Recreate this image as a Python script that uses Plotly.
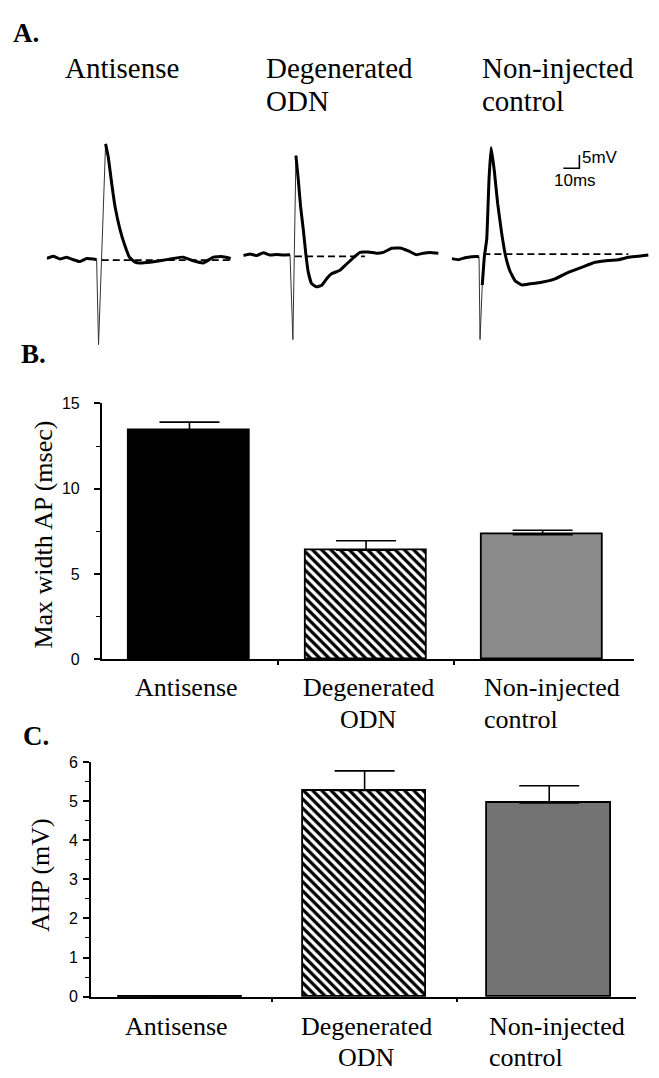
import plotly.graph_objects as go

W, H = 659, 1078

# ---------------- data: panels B and C ----------------
categories = ["Antisense", "Degenerated ODN", "Non-injected control"]
cat_labels = ["Antisense", "Degenerated<br>ODN", "Non-injected<br>control"]
ap_width_ms = [13.4, 6.4, 7.3]
ap_width_sem = [0.5, 0.55, 0.26]
ahp_mv = [0.0, 5.27, 4.95]
ahp_sem = [0.0, 0.5, 0.44]
b_tickvals = [0, 5, 10, 15]
c_tickvals = [0, 1, 2, 3, 4, 5, 6]

# ---------------- data: panel A traces (ms, mV) ----------------
anti_t = [0, 4.1, 8.3, 12.5, 16.7, 20.8, 25.0, 29.2, 31.2, None, 36.8, 38.5, 40.6, 42.7, 45.8, 48.9,
          51.7, 55.2, 58.3, 64.6, 70.9, 79.1, 85.4, 91.7, 97.9, 104.2, 109.4, 115.0]
anti_v = [0.2, 1.0, 0, 0.7, -0.3, -1.0, 0.2, 0, -0.2, None, 43.8, 38.7, 28.8, 20.0, 11.3, 5.0,
          0.7, -1.2, -1.5, -1.2, -0.7, 0.2, 0.7, -0.7, -1.5, 0.7, 0.9, 0.2]
anti_art_t = [31.2, 32.4, 36.8]
anti_art_v = [-0.2, -32.6, 43.8]
anti_dash_t = [34.4, 115.0]
anti_dash_v = [-0.4, -0.4]

degen_t = [0, 4.2, 8.4, 12.5, 16.7, 20.8, 25.0, 29.2, None, 32.9, 34.4, 35.8, 37.5, 39.2, 40.6, 42.7,
           45.8, 49.0, 52.1, 55.2, 60.4, 64.6, 69.8, 72.9, 78.1, 83.4, 87.5, 92.7, 97.9, 103.1,
           108.3, 112.5, 116.7, 121.9]
degen_v = [-0.2, 0.4, -0.2, 0.9, 0, 0.2, 0, 0.1, None, 37.8, 28.5, 18.5, 9.7, -0.2, -6.5, -10.9,
           -12.1, -11.5, -9.0, -7.1, -5.8, -3.4, -0.5, 1.0, 1.2, 0.7, 1.0, 2.6, 2.7, 1.6,
           0.1, 0.7, 1.0, 0.7]
degen_art_t = [29.2, 31.0, 32.9]
degen_art_v = [0.1, -32.2, 37.8]
degen_dash_t = [32.3, 76.1]
degen_dash_v = [-0.5, -0.5]

nonin_t = [0, 4.2, 8.3, 12.5, 15.6, 17.1, None, 19.1, 20.4, 21.9, 23.3, 24.6, 26.6, 28.7, 31.2,
           33.7, 36.4, 39.6, 43.7, 49.0, 56.2, 64.6, 72.9, 81.2, 89.6, 97.9, 104.2, 110.4, 116.7, 122.9]
nonin_v = [-0.5, -0.9, -0.2, 0.2, 0.3, 0.2, None, -10.6, 0.2, 6.9, 29.3, 41.8, 33.1, 20.6, 9.3,
           0.4, -5.2, -8.9, -10.5, -10.1, -9.5, -8.2, -5.7, -3.8, -1.9, -1.2, -0.9, 0, 0.4, 0.9]
nonin_art_t = [17.1, 17.7, 19.1]
nonin_art_v = [0.2, -31.3, -10.6]
nonin_dash_t = [19.8, 110.4]
nonin_dash_v = [1.2, 1.2]

scale_ms = 10
scale_mv = 5
trace_titles = ["Antisense", "Degenerated<br>ODN", "Non-injected<br>control"]

# ---------------- layout helpers ----------------
def fx(px):
    return px / W

def fy(px):
    return 1 - px / H

SERIF = "Liberation Serif"
SANS = "Liberation Sans"
PX_PER_MS = 1.6
PX_PER_MV = 2.67
A_TOP, A_BOT = 110, 350
A_SPAN = 200

fig = go.Figure()

panelsA = [
    (anti_t, anti_v, anti_art_t, anti_art_v, anti_dash_t, anti_dash_v, 46.7, 255.0),
    (degen_t, degen_v, degen_art_t, degen_art_v, degen_dash_t, degen_dash_v, 243.3, 251.0),
    (nonin_t, nonin_v, nonin_art_t, nonin_art_v, nonin_dash_t, nonin_dash_v, 451.7, 253.3),
]
layout_axes = {}
for i, (t, v, at, av, dt, dv, x0, base) in enumerate(panelsA):
    n = i + 3
    xa, ya = f"x{n}", f"y{n}"
    fig.add_trace(go.Scatter(x=dt, y=dv, mode="lines", xaxis=xa, yaxis=ya,
                             line=dict(color="black", width=1.8, dash="7px,4px"),
                             showlegend=False, hoverinfo="skip"))
    fig.add_trace(go.Scatter(x=at, y=av, mode="lines", xaxis=xa, yaxis=ya,
                             line=dict(color="#333333", width=1),
                             showlegend=False, hoverinfo="skip"))
    fig.add_trace(go.Scatter(x=t, y=v, mode="lines", xaxis=xa, yaxis=ya, connectgaps=False,
                             line=dict(color="black", width=3, shape="spline", smoothing=0.3),
                             showlegend=False, hoverinfo="skip"))
    layout_axes[f"xaxis{n}"] = dict(domain=[fx(x0), fx(x0 + A_SPAN)], range=[0, A_SPAN / PX_PER_MS],
                                    visible=False, anchor=ya, fixedrange=True)
    layout_axes[f"yaxis{n}"] = dict(domain=[fy(A_BOT), fy(A_TOP)],
                                    range=[-(A_BOT - base) / PX_PER_MV, (base - A_TOP) / PX_PER_MV],
                                    visible=False, anchor=xa, fixedrange=True)

# scale bar in the non-injected panel
sb_x, sb_y = 79.8, 33.9
fig.add_trace(go.Scatter(x=[sb_x - scale_ms, sb_x, sb_x], y=[sb_y, sb_y, sb_y + scale_mv],
                         mode="lines", xaxis="x5", yaxis="y5",
                         line=dict(color="black", width=1.6), showlegend=False, hoverinfo="skip"))

annotations = []
annotations.append(dict(x=sb_x, y=sb_y + scale_mv, xref="x5", yref="y5", text=f"{scale_mv}mV",
                        showarrow=False, xanchor="left", yanchor="top", xshift=1, yshift=9,
                        font=dict(family=SANS, size=17, color="black")))
annotations.append(dict(x=sb_x - scale_ms, y=sb_y, xref="x5", yref="y5", text=f"{scale_ms}ms",
                        showarrow=False, xanchor="left", yanchor="top", xshift=-11, yshift=-1,
                        font=dict(family=SANS, size=17, color="black")))


def add_lines(text, x, xref, top_px, spacing, size, xanchor, xshift=0):
    for k, line in enumerate(text.split("<br>")):
        annotations.append(dict(x=x, y=fy(top_px + k * spacing), xref=xref, yref="paper", text=line,
                                showarrow=False, xanchor=xanchor, yanchor="top", xshift=xshift,
                                font=dict(family=SERIF, size=size, color="black")))


title_x = [63, 264, 480]
for tx, tt in zip(title_x, trace_titles):
    add_lines(tt, fx(tx), "paper", 43, 33.5, 29, "left")

for lab, lx, ly in [("A.", 11, 8), ("B.", 19, 334), ("C.", 21, 722)]:
    annotations.append(dict(x=fx(lx), y=fy(ly), xref="paper", yref="paper", text=f"<b>{lab}</b>",
                            showarrow=False, xanchor="left", yanchor="top",
                            font=dict(family=SERIF, size=27, color="black")))

# ---------------- bars ----------------
idx = list(range(len(categories)))

def bar_panel(values, sems, xa, ya, width, gray):
    fig.add_trace(go.Bar(
        x=idx, y=values, width=width, xaxis=xa, yaxis=ya,
        marker=dict(color=["black", "black", gray],
                    line=dict(color="black", width=1.8),
                    pattern=dict(shape=["", "\\", ""], fgcolor="black", bgcolor="white",
                                 fillmode="replace", size=6.5, solidity=0.5)),
        error_y=dict(type="data", array=sems, arrayminus=[0] * len(sems), symmetric=False,
                     color="black", thickness=1.6, width=30),
        showlegend=False, hoverinfo="skip"))

bar_panel(ap_width_ms, ap_width_sem, "x", "y", 0.685, "#8a8a8a")
bar_panel(ahp_mv, ahp_sem, "x2", "y2", 0.67, "#737373")

# zero-height bar drawn as a line
for i, v in enumerate(ahp_mv):
    if v == 0:
        fig.add_trace(go.Scatter(x=[i - 0.67 / 2, i + 0.67 / 2], y=[v, v], mode="lines",
                                 xaxis="x2", yaxis="y2", line=dict(color="black", width=3.5),
                                 showlegend=False, hoverinfo="skip"))

axis_common = dict(showline=True, linecolor="black", linewidth=1.6, showgrid=False, zeroline=False,
                   ticks="outside", tickcolor="black", tickwidth=1.5, fixedrange=True)

layout_axes["xaxis"] = dict(axis_common, domain=[fx(101.7), fx(633.6)], range=[-0.497, 2.515],
                            tickvals=[0.5, 1.5], ticktext=["", ""], ticklen=4, anchor="y")
layout_axes["yaxis"] = dict(axis_common, domain=[fy(661.7), fy(401.7)], range=[0, 15],
                            tickvals=b_tickvals, ticklen=6, ticklabelstandoff=11, anchor="x",
                            tickfont=dict(family=SANS, size=16, color="black"),
                            minor=dict(dtick=2.5, ticks="outside", ticklen=4, tickcolor="black",
                                       tickwidth=1.2, showgrid=False))
layout_axes["xaxis2"] = dict(axis_common, domain=[fx(91), fx(636)], range=[-0.482, 2.47],
                             tickvals=[0.5, 1.5], ticktext=["", ""], ticklen=4, anchor="y2")
layout_axes["yaxis2"] = dict(axis_common, domain=[fy(1004.5), fy(766)], range=[0, 6],
                             tickvals=c_tickvals, ticklen=6, ticklabelstandoff=2, anchor="x2",
                             tickfont=dict(family=SANS, size=16, color="black"),
                             minor=dict(dtick=0.5, ticks="outside", ticklen=4, tickcolor="black",
                                        tickwidth=1.2, showgrid=False))

# category labels
def cat_annots(xa, width, top_px):
    for i, lab in enumerate(cat_labels):
        if i == 2:
            add_lines(lab, i - width / 2, xa, top_px, 32, 26, "left")
        else:
            add_lines(lab, i, xa, top_px, 32, 26, "center", xshift=-3 if i == 0 else 2)

cat_annots("x", 0.685, 674)
cat_annots("x2", 0.67, 1018)

annotations.append(dict(x=fx(44), y=fy(535), xref="paper", yref="paper", text="Max width AP (msec)",
                        textangle=-90, showarrow=False, xanchor="center", yanchor="middle",
                        font=dict(family=SERIF, size=26, color="black")))
annotations.append(dict(x=fx(40), y=fy(881), xref="paper", yref="paper", text="AHP (mV)",
                        textangle=-90, showarrow=False, xanchor="center", yanchor="middle",
                        font=dict(family=SERIF, size=26, color="black")))

fig.update_layout(width=W, height=H, margin=dict(l=0, r=0, t=0, b=0),
                  paper_bgcolor="white", plot_bgcolor="rgba(0,0,0,0)",
                  annotations=annotations, bargap=0, **layout_axes)

fig.write_html("out.html", config={"displayModeBar": False},
               post_script="document.body.style.margin='0';document.body.style.overflow='hidden';")
